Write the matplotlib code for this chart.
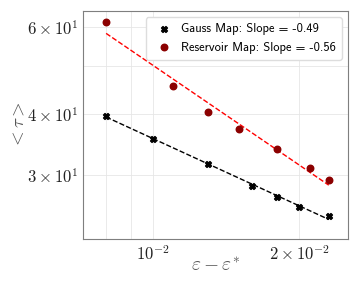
import matplotlib
matplotlib.use("Agg")
import matplotlib.pyplot as plt
import numpy as np

plt.rcParams['mathtext.fontset'] = 'cm'
plt.rcParams['font.family'] = 'serif'
plt.rcParams['font.serif'] = ['cmr10']
plt.rcParams['axes.formatter.use_mathtext'] = True
plt.rcParams['axes.unicode_minus'] = False

# data
eps_gauss = [0.008, 0.010, 0.013, 0.016, 0.018, 0.020, 0.023]
tau_gauss = [39.6, 35.6, 31.6, 28.6, 27.1, 25.9, 24.8]
eps_res = [0.008, 0.011, 0.013, 0.015, 0.018, 0.021, 0.023]
tau_res = [61.3, 45.5, 40.4, 37.2, 33.9, 31.0, 29.4]
labels = ["Gauss Map: Slope = -0.49", "Reservoir Map: Slope = -0.56"]


def fit_line(x, y):
    p = np.polyfit(np.log10(x), np.log10(y), 1)
    xs = np.array([min(x), max(x)])
    return xs, 10**np.polyval(p, np.log10(xs))


fig = plt.figure(figsize=(3.6, 2.88), dpi=100)
ax = fig.add_axes([0.2306, 0.170, 0.7361, 0.792])

ax.scatter(eps_gauss, tau_gauss, marker='X', s=18, color='black', label=labels[0], zorder=3)
ax.scatter(eps_res, tau_res, marker='o', s=22, color='darkred', label=labels[1], zorder=3)
xs, ys = fit_line(eps_gauss, tau_gauss)
ax.plot(xs, ys, '--', color='black', linewidth=1)
xs, ys = fit_line(eps_res, tau_res)
ax.plot(xs, ys, '--', color='red', linewidth=1)

ax.set_xscale('log')
ax.set_yscale('log')
ax.set_xlim(0.00717, 0.0252)
ax.set_ylim(22.3, 64.6)

ax.grid(True, which='both', color='#e6e6e6', linewidth=0.6)
ax.set_axisbelow(True)
for s in ax.spines.values():
    s.set_color('#7f7f7f')
ax.tick_params(which='both', length=0, labelsize=12, pad=3.5, labelcolor='#222222')

ax.set_xlabel(r'$\varepsilon - \varepsilon^{*}$', fontsize=14, color='#555555')
ax.set_ylabel(r'$<\tau>$', fontsize=13.5, color='#555555')
ax.xaxis.set_label_coords(0.5, -0.08)
ax.yaxis.set_label_coords(-0.21, 0.5)

ax.legend(loc='upper right', prop={'family': 'cmss10', 'size': 9},
          handletextpad=0.3, borderpad=0.5, framealpha=1, edgecolor='#dddddd')

fig.savefig('out.png', dpi=100)
